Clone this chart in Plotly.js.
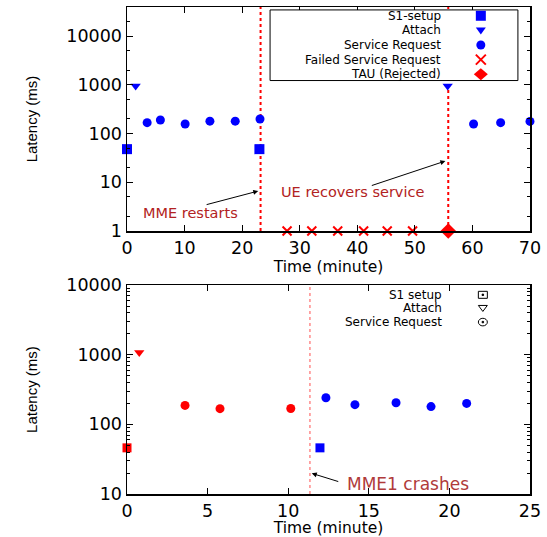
<!DOCTYPE html>
<html>
<head>
<meta charset="utf-8">
<script src="https://cdn.plot.ly/plotly-3.0.1.min.js"></script>
<style>html,body{margin:0;padding:0;background:#fff;}#chart{width:547px;height:537px;}</style>
</head>
<body>
<div id="chart"></div>
<script>
// ---------- Top panel data ----------
const topS1X = [0, 23];
const topS1Y = [48, 48];
const topAttachX = [1.5, 55.7];
const topAttachY = [950, 950];
const topSrX = [3.5, 5.8, 10.1, 14.4, 18.8, 23.1, 60.2, 64.9, 70];
const topSrY = [168, 190, 158, 180, 180, 200, 158, 168, 178];
const topFsrX = [27.8, 32.1, 36.6, 41.1, 45.2, 49.6];
const topFsrY = [1, 1, 1, 1, 1, 1];
const topTauX = [55.8];
const topTauY = [1];
const topEventX = [23.2, 55.8];
const topLegendNames = ["S1-setup", "Attach", "Service Request", "Failed Service Request", "TAU (Rejected)"];

// ---------- Bottom panel data ----------
const botS1RedX = [0];
const botS1RedY = [46];
const botS1BlueX = [11.97];
const botS1BlueY = [46];
const botAttachRedX = [0.76];
const botAttachRedY = [1080];
const botSrRedX = [3.6, 5.77, 10.16];
const botSrRedY = [187, 168, 169];
const botSrBlueX = [12.34, 14.14, 16.69, 18.86, 21.07];
const botSrBlueY = [241, 192, 204, 180, 200];
const botEventX = [11.35];
const botLegendNames = ["S1 setup", "Attach", "Service Request"];

// ---------- Tick labels ----------
const topYTicks = [1, 10, 100, 1000, 10000];
const botYTicks = [10, 100, 1000, 10000];

const BLUE = "#0000ff", RED = "#ff0000";
const TICKFONT = {family: "DejaVu Sans", size: 17.5, color: "#000"};

function pts(x, y, xa, ya, symbol, color, size, lw) {
  return {
    x: x, y: y, xaxis: xa, yaxis: ya, type: "scatter", mode: "markers",
    cliponaxis: false, showlegend: false, hoverinfo: "skip",
    marker: {symbol: symbol, color: color, size: size, line: {width: lw || 0, color: color}}
  };
}

const data = [
  pts(topS1X, topS1Y, "x", "y", "square", BLUE, 10),
  pts(topAttachX, topAttachY, "x", "y", "triangle-down", BLUE, 9),
  pts(topSrX, topSrY, "x", "y", "circle", BLUE, 9),
  pts(topFsrX, topFsrY, "x", "y", "x-thin", RED, 9, 2),
  pts(topTauX, topTauY, "x", "y", "diamond", RED, 12),
  pts(botS1RedX, botS1RedY, "x2", "y2", "square", RED, 9),
  pts(botS1BlueX, botS1BlueY, "x2", "y2", "square", BLUE, 9),
  pts(botAttachRedX, botAttachRedY, "x2", "y2", "triangle-down", RED, 9),
  pts(botSrRedX, botSrRedY, "x2", "y2", "circle", RED, 9),
  pts(botSrBlueX, botSrBlueY, "x2", "y2", "circle", BLUE, 9)
];

const shapes = [];
topEventX.forEach(v => shapes.push({type: "line", xref: "x", yref: "y domain", x0: v, x1: v, y0: 0, y1: 1,
  line: {color: RED, width: 2, dash: "dot"}, layer: "below"}));
botEventX.forEach(v => shapes.push({type: "line", xref: "x2", yref: "y2 domain", x0: v, x1: v, y0: 0, y1: 1,
  line: {color: "#ff5050", width: 1, dash: "dot"}, layer: "below"}));

// top legend box
shapes.push({type: "rect", xref: "paper", yref: "paper", x0: 0.355, x1: 0.970, y0: 0.849, y1: 0.994,
  line: {color: "#000", width: 1}, fillcolor: "#fff", layer: "above"});

const annotations = [];
const LEGFONT = {family: "DejaVu Sans", size: 12, color: "#000"};
// top legend entries
const topLegY = [0.982, 0.952, 0.922, 0.892, 0.862];
topLegendNames.forEach((n, i) => annotations.push({xref: "paper", yref: "paper", x: 0.785, y: topLegY[i],
  xanchor: "right", yanchor: "middle", text: n, showarrow: false, font: LEGFONT}));
// legend symbols as pixel-sized shapes
function pshape(ax, ay, path, color, fill, lw) {
  return {type: "path", xref: "paper", yref: "paper", xsizemode: "pixel", ysizemode: "pixel",
    xanchor: ax, yanchor: ay, path: path, fillcolor: fill, line: {color: color, width: lw}, layer: "above"};
}
function cshape(ax, ay, rx, ry, color, fill, lw) {
  return {type: "circle", xref: "paper", yref: "paper", xsizemode: "pixel", ysizemode: "pixel",
    xanchor: ax, yanchor: ay, x0: -rx, x1: rx, y0: -ry, y1: ry, fillcolor: fill,
    line: {color: color, width: lw}, layer: "above"};
}
const lx = 0.878;
shapes.push(pshape(lx, topLegY[0], "M-5,-5L5,-5L5,5L-5,5Z", BLUE, BLUE, 0));
shapes.push(pshape(lx, topLegY[1], "M-5,3L5,3L0,-4Z", BLUE, BLUE, 0));
shapes.push(cshape(lx, topLegY[2], 4.5, 4.5, BLUE, BLUE, 0));
shapes.push(pshape(lx, topLegY[3], "M-5,-5L5,5M-5,5L5,-5", RED, "rgba(0,0,0,0)", 2));
shapes.push(pshape(lx, topLegY[4], "M-7,0L0,6L7,0L0,-6Z", RED, RED, 0));

// bottom legend
const botLegY = [0.409, 0.381, 0.353];
botLegendNames.forEach((n, i) => annotations.push({xref: "paper", yref: "paper", x: 0.787, y: botLegY[i],
  xanchor: "right", yanchor: "middle", text: n, showarrow: false, font: LEGFONT}));
const bx = 0.883;
const NOFILL = "rgba(0,0,0,0)";
shapes.push(pshape(bx, botLegY[0], "M-4.5,-3.5L4.5,-3.5L4.5,3.5L-4.5,3.5Z", "#000", NOFILL, 1));
shapes.push(pshape(bx, botLegY[0], "M-0.7,-0.7L0.7,-0.7L0.7,0.7L-0.7,0.7Z", "#000", "#000", 1));
shapes.push(pshape(bx, botLegY[1], "M-4.5,3L4.5,3L0,-3Z", "#000", NOFILL, 1));
shapes.push(cshape(bx, botLegY[2], 4.5, 3.8, "#000", NOFILL, 1));
shapes.push(pshape(bx, botLegY[2], "M-0.7,-0.7L0.7,-0.7L0.7,0.7L-0.7,0.7Z", "#000", "#000", 1));

// event annotations (log axes use log10 coordinates)
annotations.push({xref: "x", yref: "y", x: 22.8, y: 0.821, axref: "x", ayref: "y", ax: 13.57, ay: 0.534,
  text: "", showarrow: true, arrowhead: 2, arrowsize: 1, arrowwidth: 1, arrowcolor: "#000"});
annotations.push({xref: "x", yref: "y", x: 10.96, y: 0.376, text: "MME restarts", showarrow: false,
  font: {family: "DejaVu Sans", size: 14.5, color: "#b22222"}});
annotations.push({xref: "x", yref: "y", x: 55.3, y: 1.437, axref: "x", ayref: "y", ax: 42.26, ay: 0.924,
  text: "", showarrow: true, arrowhead: 2, arrowsize: 1, arrowwidth: 1, arrowcolor: "#000"});
annotations.push({xref: "x", yref: "y", x: 39.1, y: 0.795, text: "UE recovers service", showarrow: false,
  font: {family: "DejaVu Sans", size: 14.5, color: "#b22222"}});
annotations.push({xref: "x2", yref: "y2", x: 11.46, y: 1.297, axref: "x2", ayref: "y2", ax: 13.2, ay: 1.172,
  text: "", showarrow: true, arrowhead: 2, arrowsize: 1, arrowwidth: 1, arrowcolor: "#000"});
annotations.push({xref: "x2", yref: "y2", x: 17.43, y: 1.143, text: "MME1 crashes", showarrow: false,
  font: {family: "DejaVu Sans", size: 17, color: "#b03a3a"}});

const axBase = {showline: true, linecolor: "#000", linewidth: 1.5, mirror: "ticks", ticks: "inside",
  ticklen: 6, tickwidth: 1, tickcolor: "#000", showgrid: false, zeroline: false, tickfont: TICKFONT};
const XTITLEFONT = {family: "DejaVu Sans", size: 15.5, color: "#000"};
const YTITLEFONT = {family: "Liberation Sans", size: 15, color: "#000"};

const layout = {
  width: 547, height: 537,
  margin: {l: 127, r: 17, t: 7, b: 43},
  paper_bgcolor: "#fff", plot_bgcolor: "#fff",
  showlegend: false,
  xaxis: Object.assign({}, axBase, {domain: [0, 1], anchor: "y", range: [0, 70], dtick: 10, tick0: 0,
    title: {text: "Time (minute)", font: XTITLEFONT, standoff: 4}}),
  yaxis: Object.assign({}, axBase, {domain: [0.540, 1], anchor: "x", type: "log", range: [0, 4.6],
    tickvals: topYTicks, ticktext: topYTicks.map(String),
    minor: {ticks: "inside", ticklen: 3, dtick: "D2", tickcolor: "#000", showgrid: false},
    title: {text: "Latency (ms)", font: YTITLEFONT, standoff: 25}}),
  xaxis2: Object.assign({}, axBase, {domain: [0, 1], anchor: "y2", range: [0, 25], dtick: 5, tick0: 0,
    title: {text: "Time (minute)", font: XTITLEFONT, standoff: 4}}),
  yaxis2: Object.assign({}, axBase, {domain: [0, 0.429], anchor: "x2", type: "log", range: [1, 4],
    tickvals: botYTicks, ticktext: botYTicks.map(String),
    minor: {ticks: "inside", ticklen: 3, dtick: "D1", tickcolor: "#000", showgrid: false},
    title: {text: "Latency (ms)", font: YTITLEFONT, standoff: 25}}),
  shapes: shapes,
  annotations: annotations
};

Plotly.newPlot("chart", data, layout, {staticPlot: true, displayModeBar: false});
</script>
</body>
</html>
